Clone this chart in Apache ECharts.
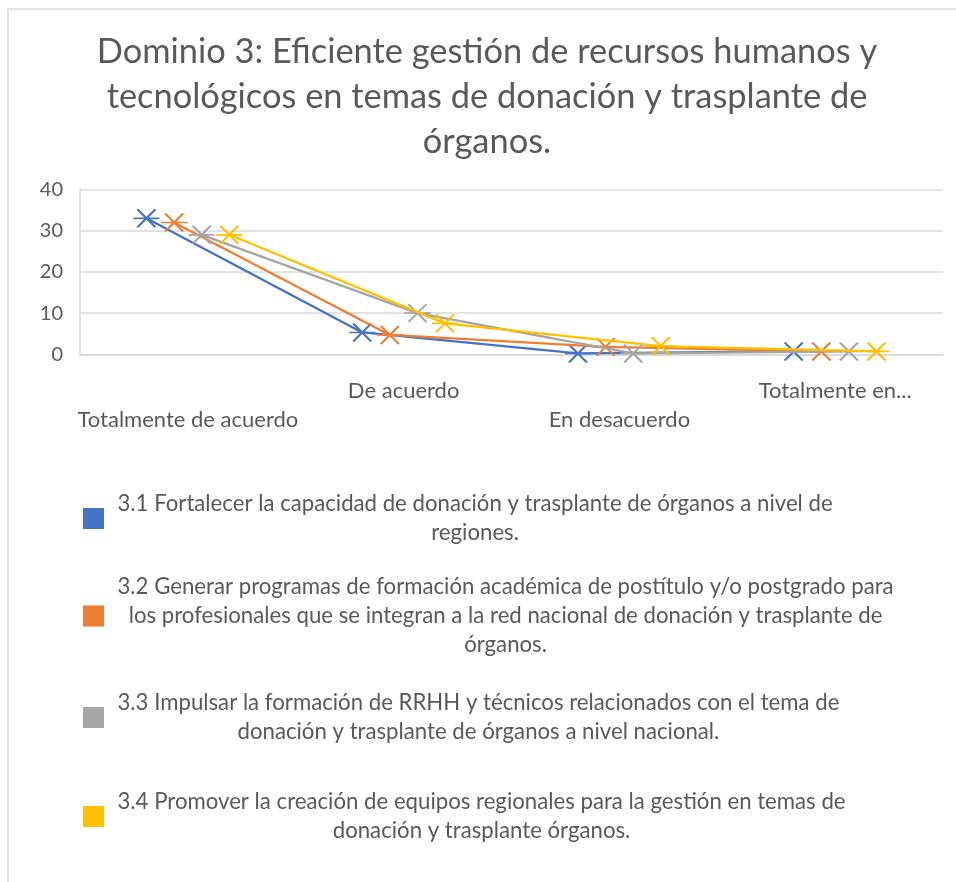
<!DOCTYPE html>
<html><head><meta charset="utf-8">
<script src="https://cdn.jsdelivr.net/npm/echarts@6/dist/echarts.min.js"></script>
<style>html,body{margin:0;padding:0;background:#fff}#c{width:956px;height:882px}</style>
</head><body><div id="c"></div>
<script>
// ---- data ----
const categories = ["Totalmente de acuerdo", "De acuerdo", "En desacuerdo", "Totalmente en..."];
const seriesNames = [
  "3.1 Fortalecer la capacidad de donación y trasplante de órganos a nivel de\nregiones.",
  "3.2 Generar programas de formación académica de postítulo y/o postgrado para\nlos profesionales que se integran a la red nacional de donación y trasplante de\nórganos.",
  "3.3 Impulsar la formación de RRHH y técnicos relacionados con el tema de\ndonación y trasplante de órganos a nivel nacional.",
  "3.4 Promover la creación de equipos regionales para la gestión en temas de\ndonación y trasplante órganos."
];
const values31 = [33, 5.3, 0.2, 0.7];
const values32 = [32, 4.7, 1.8, 0.7];
const values33 = [29, 10, 0.2, 0.7];
const values34 = [29, 7.5, 2, 0.7];
const yTicks = [0, 10, 20, 30, 40];
const titleText = "Dominio 3: Eficiente gestión de recursos humanos y\ntecnológicos en temas de donación y trasplante de\nórganos.";

// ---- styling / layout ----
const colors = ["#4472C4", "#ED7D31", "#A5A5A5", "#FFC000"];
const offsets = [-0.192, -0.064, 0.064, 0.192];
const legendTops = [493, 576, 692, 791];
const FONT = "Lato";
const TXT = "#595959";
const allValues = [values31, values32, values33, values34];
const starPath = 'path://M4,0L22,18M22,0L4,18M0,9L26,9';

function legendFmt(name) {
  return name.split('\n').map(l => '{c|' + l + '}').join('\n');
}

const chart = echarts.init(document.getElementById('c'), null, {renderer: 'canvas'});
chart.setOption({
  animation: false,
  backgroundColor: '#fff',
  graphic: [{
    type: 'rect', silent: true, z: -1,
    shape: {x: 8, y: 9, width: 1200, height: 1200},
    style: {fill: 'none', stroke: '#d9d9d9', lineWidth: 1.5}
  }],
  title: {
    text: titleText, left: 482, top: 24, textAlign: 'center',
    textStyle: {fontFamily: FONT, fontSize: 34.4, fontWeight: 'normal', color: TXT, lineHeight: 45}
  },
  grid: {left: 80, right: 13, top: 189.5, bottom: 527.7, containLabel: false, outerBoundsMode: 'none'},
  xAxis: [{
    type: 'category', data: categories, boundaryGap: true,
    axisLine: {lineStyle: {color: '#d9d9d9', width: 1.5}},
    axisTick: {show: false},
    axisLabel: {
      interval: 0, margin: 22, fontSize: 22, lineHeight: 29, color: TXT, fontFamily: FONT,
      formatter: (v, i) => (i % 2 === 0 ? '\n' + v : v)
    },
    splitLine: {show: false}
  }, {
    type: 'value', min: -0.5, max: 3.5, show: false
  }],
  yAxis: {
    type: 'value', min: yTicks[0], max: yTicks[yTicks.length - 1], interval: yTicks[1] - yTicks[0],
    axisLine: {show: true, onZero: false, lineStyle: {color: '#d9d9d9', width: 1.5}},
    axisTick: {show: false},
    axisLabel: {margin: 17, fontSize: 20, color: TXT, fontFamily: FONT},
    splitLine: {lineStyle: {color: '#d9d9d9', width: 1.5}}
  },
  legend: seriesNames.map((n, i) => ({
    data: [n], orient: 'vertical', left: 83, top: legendTops[i],
    itemWidth: 38, itemHeight: 21, itemGap: 0, padding: 0,
    icon: 'path://M0,0h10v10h-10z', symbolKeepAspect: true, selectedMode: false,
    itemStyle: {borderWidth: 0},
    formatter: legendFmt,
    textStyle: {rich: {c: {align: 'center', fontSize: 22.2, lineHeight: 29, color: TXT, fontFamily: FONT}}}
  })),
  series: allValues.map((vals, s) => ({
    name: seriesNames[s], type: 'line', xAxisIndex: 1,
    data: vals.map((v, i) => [i + offsets[s], v]),
    symbol: starPath, symbolSize: [26, 18],
    itemStyle: {color: colors[s], borderColor: colors[s], borderWidth: 2},
    lineStyle: {color: colors[s], width: 2.25},
    z: 2 + s
  }))
});
</script></body></html>
